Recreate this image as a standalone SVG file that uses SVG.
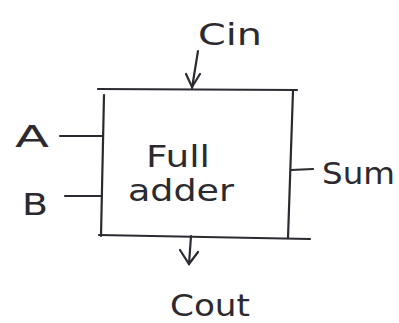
<svg xmlns="http://www.w3.org/2000/svg" width="399" height="323" viewBox="0 0 399 323">
<defs>
<style>
.ln{stroke:#2b2a30;stroke-width:2.2;fill:none;stroke-linecap:round}
.t{font-family:"DejaVu Sans","Liberation Sans",sans-serif;fill:#2b2a30;font-size:31px}
</style>
</defs>
<rect width="399" height="323" fill="#ffffff"/>
<g id="full-adder">
<line class="ln" x1="98" y1="89" x2="297" y2="90"/>
<line class="ln" x1="104" y1="95" x2="101" y2="236"/>
<line class="ln" x1="293" y1="91" x2="288" y2="238"/>
<line class="ln" x1="99" y1="235" x2="310" y2="239"/>
<text class="t" x="146" y="167" textLength="64" lengthAdjust="spacingAndGlyphs">Full</text>
<text class="t" x="128" y="201" textLength="106" lengthAdjust="spacingAndGlyphs">adder</text>
</g>
<g id="A"><text class="t" x="15" y="147" textLength="34" lengthAdjust="spacingAndGlyphs">A</text></g>
<g id="B"><text class="t" x="22" y="215" textLength="26" lengthAdjust="spacingAndGlyphs">B</text></g>
<g id="Cin"><text class="t" x="198" y="45" textLength="64" lengthAdjust="spacingAndGlyphs">Cin</text></g>
<g id="Sum"><text class="t" x="322" y="184" textLength="73" lengthAdjust="spacingAndGlyphs">Sum</text></g>
<g id="Cout"><text class="t" x="170" y="316" textLength="80" lengthAdjust="spacingAndGlyphs">Cout</text></g>
<g id="connectors">
<line class="ln" x1="60" y1="136" x2="103" y2="136"/>
<line class="ln" x1="65" y1="196" x2="102" y2="196"/>
<line class="ln" x1="291" y1="170" x2="313" y2="169"/>
<line class="ln" x1="198" y1="51" x2="192" y2="88"/>
<polyline class="ln" points="186,74 192,87 200,74"/>
<line class="ln" x1="191" y1="236" x2="189" y2="264"/>
<polyline class="ln" points="180,250 189,264 198,252"/>
</g>
</svg>
